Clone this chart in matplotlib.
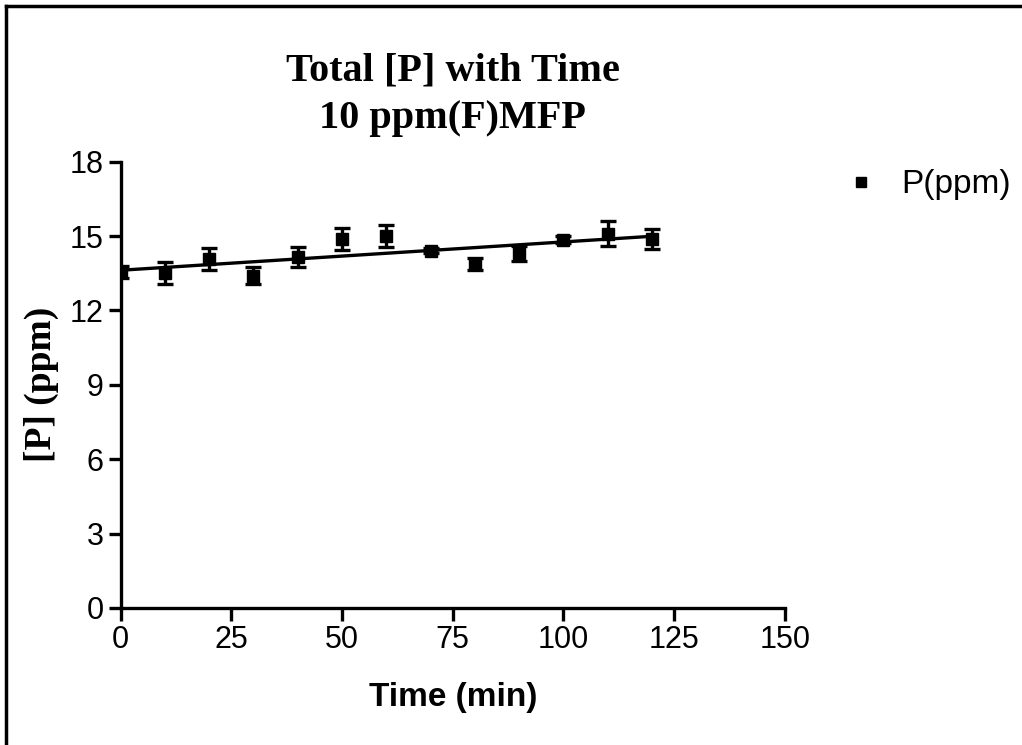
import matplotlib.pyplot as plt
import numpy as np
from matplotlib.lines import Line2D

# data
time_min = [0, 10, 20, 30, 40, 50, 60, 70, 80, 90, 100, 110, 120]
p_ppm = [13.55, 13.5, 14.07, 13.4, 14.15, 14.88, 15.01, 14.4, 13.87, 14.31, 14.85, 15.1, 14.88]
p_err = [0.25, 0.45, 0.45, 0.35, 0.4, 0.45, 0.45, 0.1, 0.25, 0.3, 0.15, 0.5, 0.4]

x_ticks = [0, 25, 50, 75, 100, 125, 150]
y_ticks = [0, 3, 6, 9, 12, 15, 18]

fig = plt.figure(figsize=(10.22, 7.45), dpi=100)
ax = fig.add_axes([0.118, 0.184, 0.650, 0.599])

ax.errorbar(time_min, p_ppm, yerr=p_err, fmt='s', color='black', ms=8,
            ecolor='black', elinewidth=2.4, capsize=6, capthick=2.4, zorder=3)

# linear regression line
m, c = np.polyfit(time_min, p_ppm, 1)
xf = np.array([min(time_min), max(time_min)])
ax.plot(xf, m * xf + c, color='black', lw=2.4, zorder=2)

ax.set_xlim(0, 150)
ax.set_ylim(0, 18)
ax.set_xticks(x_ticks)
ax.set_yticks(y_ticks)
ax.spines['top'].set_visible(False)
ax.spines['right'].set_visible(False)
for s in ['left', 'bottom']:
    ax.spines[s].set_linewidth(2.4)
ax.tick_params(direction='out', length=9, width=2.4, labelsize=22, pad=3)
for lab in ax.get_xticklabels() + ax.get_yticklabels():
    lab.set_fontfamily('Liberation Sans')

ax.set_xlabel('Time (min)', fontfamily='Liberation Sans', fontweight='bold',
              fontsize=24, labelpad=20)
ax.set_ylabel('[P] (ppm)', fontfamily='Liberation Serif', fontweight='bold',
              fontsize=27, labelpad=8)
ax.set_title('Total [P] with Time\n10 ppm(F)MFP', fontfamily='Liberation Serif',
             fontweight='bold', fontsize=29, linespacing=1.4, pad=24)

handle = Line2D([], [], marker='s', ls='none', color='black', ms=7)
fig.legend([handle], ['P(ppm)'], loc='center left', bbox_to_anchor=(0.80, 0.752),
           frameon=False, prop={'family': 'Liberation Sans', 'size': 24},
           handletextpad=0.8, handlelength=0.8)

# scanned page frame (left and top edges)
fig.add_artist(Line2D([0.006, 0.006], [0.0, 0.992], color='black', lw=2.5))
fig.add_artist(Line2D([0.006, 1.0], [0.992, 0.992], color='black', lw=2.5))

fig.savefig('out.png', dpi=100)
